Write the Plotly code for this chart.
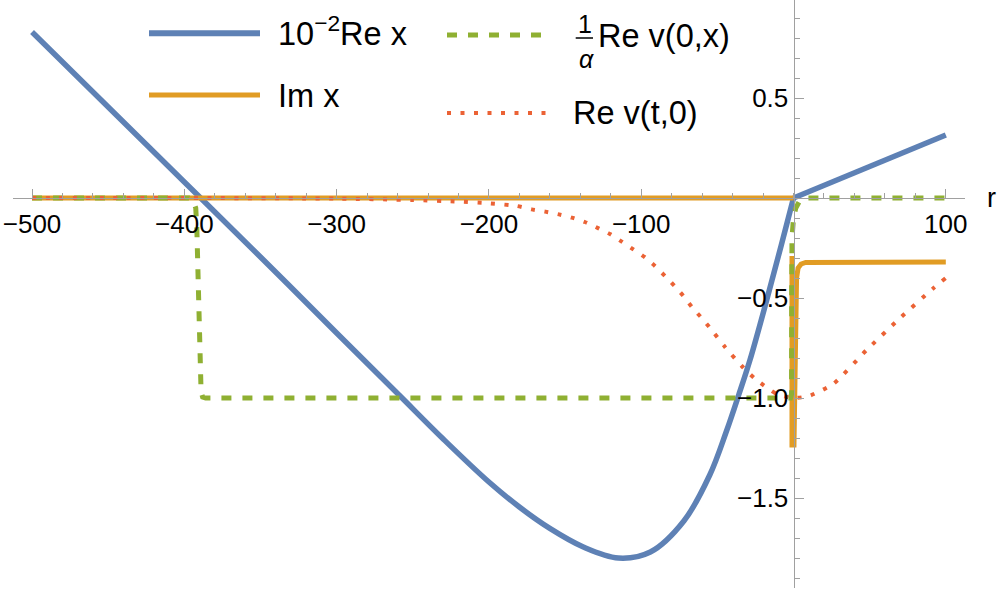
import plotly.graph_objects as go

# ---- data ----
re_x_r = [-500, -450, -400, -350, -300, -259, -230, -200, -180, -160, -138, -115,
          -94, -72, -55, -44, -36, -28.6, -17.6, -8, 0]
re_x_v = [0.83, 0.455, 0.08, -0.295, -0.675, -0.985, -1.205, -1.42, -1.545, -1.652, -1.745, -1.80,
          -1.77, -1.615, -1.385, -1.165, -0.985, -0.81, -0.51, -0.235, 0.0]
re_x_r_out = [0, 50, 100]
re_x_v_out = [0.0, 0.16, 0.315]

im_x_r = [-500, 0, None, -1, -1, 0.3, 0.8, 1.3, 2, 3, 5, 8, 100]
im_x_v = [0.0, 0.0, None, -0.29, -1.235, -1.235, -0.8, -0.5, -0.4, -0.35, -0.33, -0.322, -0.32]

v0x_r = [-500, -397, -394.5, -392.5, -391.8, -389.5, -389, -388, -386, -2, -1.3, -1.2, -1.0,
         0, 1.5, 4, 8, 100]
v0x_v = [0.0, 0.0, -0.01, -0.05, -0.15, -0.9, -0.97, -0.995, -1.0, -1.0, -0.98, -0.5, -0.2,
         -0.1, -0.05, -0.015, 0.0, 0.0]

vt0_r = [-500, -400, -300, -250, -220, -199, -181.7, -172, -163, -154, -145.6, -137, -128,
         -120.5, -112.8, -105.2, -97.5, -91, -84.4, -77.8, -72.3, -66.2, -60.3, -54.8, -45,
         -34, -25, -11, 0, 10, 26, 48, 70, 92, 100]
vt0_v = [0.0, 0.0, -0.003, -0.01, -0.018, -0.027, -0.04, -0.057, -0.068, -0.082, -0.098, -0.12,
         -0.152, -0.18, -0.218, -0.257, -0.297, -0.34, -0.39, -0.443, -0.49, -0.55, -0.6, -0.65,
         -0.745, -0.84, -0.905, -0.98, -1.0, -0.99, -0.93, -0.76, -0.6, -0.45, -0.40]

x_ticks = [-500, -400, -300, -200, -100, 100]
x_labels = ["−500", "−400", "−300", "−200", "−100", "100"]
y_ticks = [-1.5, -1.0, -0.5, 0.5]
y_labels = ["−1.5", "−1.0", "−0.5", "0.5"]

BLUE = "#5E81B5"
ORANGE = "#E19C24"
GREEN = "#8FB032"
RED = "#EB6235"
AXIS = "#a0a0a0"
FONT = "Liberation Sans, Arial, sans-serif"

W, H = 997, 591
ML, MR, MT, MB = 13, 32, 0, 3
PW, PH = W - ML - MR, H - MT - MB
XR = [-512.5, 112.6]
YR = [-1.95, 0.99]


def px(xp):
    return (xp - ML) / PW


def py(yp):
    return (PH + MT - yp) / PH


fig = go.Figure()
fig.add_trace(go.Scatter(x=re_x_r, y=re_x_v, mode="lines", showlegend=False,
                         line=dict(color=BLUE, width=5.5, shape="spline", smoothing=1.0)))
fig.add_trace(go.Scatter(x=re_x_r_out, y=re_x_v_out, mode="lines", showlegend=False,
                         line=dict(color=BLUE, width=5.5)))
fig.add_trace(go.Scatter(x=im_x_r, y=im_x_v, mode="lines", showlegend=False,
                         line=dict(color=ORANGE, width=5), connectgaps=False))
fig.add_trace(go.Scatter(x=v0x_r, y=v0x_v, mode="lines", showlegend=False,
                         line=dict(color=GREEN, width=5, dash="10px,11px")))
fig.add_trace(go.Scatter(x=vt0_r, y=vt0_v, mode="lines", showlegend=False,
                         line=dict(color=RED, width=4, dash="4px,9.5px", shape="spline",
                                   smoothing=0.6)))

# hand-made legend (long sample lines like the original)
shapes = [
    dict(type="line", xref="paper", yref="paper", x0=px(149), x1=px(260), y0=py(33.3), y1=py(33.3),
         line=dict(color=BLUE, width=6)),
    dict(type="line", xref="paper", yref="paper", x0=px(149), x1=px(260), y0=py(95), y1=py(95),
         line=dict(color=ORANGE, width=5)),
    dict(type="line", xref="paper", yref="paper", x0=px(447), x1=px(547), y0=py(35), y1=py(35),
         line=dict(color=GREEN, width=5, dash="10px,11px")),
    dict(type="line", xref="paper", yref="paper", x0=px(447), x1=px(547), y0=py(113), y1=py(113),
         line=dict(color=RED, width=4, dash="4px,9.5px")),
    # fraction bar of 1/alpha
    dict(type="line", xref="paper", yref="paper", x0=px(575.7), x1=px(593), y0=py(38), y1=py(38),
         line=dict(color="black", width=1.5)),
]


def label(text, xp, yp, size, xanchor="left"):
    return dict(text=text, xref="paper", yref="paper", x=px(xp), y=py(yp), xanchor=xanchor,
                yanchor="middle", showarrow=False, borderpad=0,
                font=dict(family=FONT, size=size, color="black"))


annotations = [
    label("10<sup>−2</sup>Re x", 277, 31, 32.5),
    label("Im x", 277, 95.5, 32.5),
    label("1", 585, 24, 25, "center"),
    label("<i>α</i>", 586, 59, 25, "center"),
    label("Re v(0,x)", 597, 36.5, 32.5),
    label("Re v(t,0)", 572, 113, 32.5),
    label("r", 992, 198, 27, "center"),
]

fig.update_layout(
    width=W, height=H,
    margin=dict(l=ML, r=MR, t=MT, b=MB, autoexpand=False),
    paper_bgcolor="white", plot_bgcolor="white",
    shapes=shapes, annotations=annotations,
    font=dict(family=FONT, size=26, color="black"),
    xaxis=dict(range=XR, anchor="free", position=(0 - YR[0]) / (YR[1] - YR[0]), side="bottom",
               automargin=False,
               showgrid=False, zeroline=False, showline=True, linecolor=AXIS, linewidth=1,
               tickmode="array", tickvals=x_ticks, ticktext=x_labels,
               ticks="inside", ticklen=9, tickwidth=1, tickcolor=AXIS, ticklabelstandoff=3,
               tickfont=dict(family=FONT, size=26, color="black"),
               minor=dict(tickmode="linear", tick0=0, dtick=20, ticks="inside", ticklen=5,
                          tickwidth=1, tickcolor=AXIS)),
    yaxis=dict(range=YR, anchor="free", position=(0 - XR[0]) / (XR[1] - XR[0]), side="left",
               automargin=False,
               showgrid=False, zeroline=False, showline=True, linecolor=AXIS, linewidth=1,
               tickmode="array", tickvals=y_ticks, ticktext=y_labels,
               ticks="inside", ticklen=9, tickwidth=1, tickcolor=AXIS,
               tickfont=dict(family=FONT, size=26, color="black"),
               minor=dict(tickmode="linear", tick0=0, dtick=0.1, ticks="inside", ticklen=5,
                          tickwidth=1, tickcolor=AXIS)),
)

# the page body has a default 8px margin; remove it so the figure fills the window
fig.write_html("out.html", config={"displayModeBar": False},
               post_script="document.body.style.margin='0';")
